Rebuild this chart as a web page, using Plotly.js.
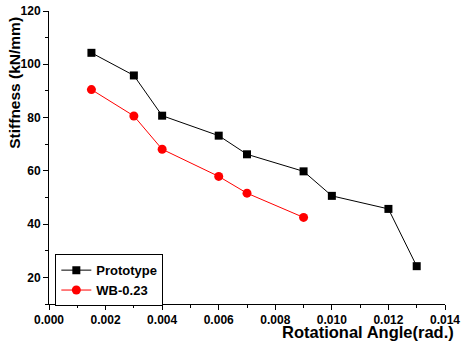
<!DOCTYPE html>
<html><head><meta charset="utf-8">
<script src="https://cdn.plot.ly/plotly-3.0.1.min.js"></script>
<style>html,body{margin:0;padding:0;background:#fff}#chart{width:461px;height:343px}</style>
</head><body><div id="chart"></div>
<script>
const protoX = [0.0015, 0.003, 0.004, 0.006, 0.007, 0.009, 0.010, 0.012, 0.013];
const protoY = [104.3, 95.8, 80.7, 73.2, 66.2, 59.8, 50.6, 45.7, 24.2];
const wbX = [0.0015, 0.003, 0.004, 0.006, 0.007, 0.009];
const wbY = [90.5, 80.6, 68.1, 57.9, 51.6, 42.5];
const seriesNames = ['Prototype', 'WB-0.23'];
const xTitle = 'Rotational Angle(rad.)';
const yTitle = 'Stiffness (kN/mm)';

const F = 'Liberation Sans, Arial, sans-serif';
const traces = [
  {x: protoX, y: protoY, name: seriesNames[0], mode: 'lines+markers',
   line: {color: '#000', width: 1}, marker: {symbol: 'square', size: 8, color: '#000'}},
  {x: wbX, y: wbY, name: seriesNames[1], mode: 'lines+markers',
   line: {color: '#ff0000', width: 1}, marker: {symbol: 'circle', size: 9, color: '#ff0000'}}
];
const layout = {
  width: 461, height: 343,
  margin: {l: 49, r: 16, t: 11, b: 39},
  paper_bgcolor: '#fff', plot_bgcolor: '#fff',
  font: {family: F, color: '#000', size: 12, weight: 'bold'},
  showlegend: true,
  legend: {x: 0.016, y: 0.17, xanchor: 'left', yanchor: 'top', bordercolor: '#000', borderwidth: 1,
    bgcolor: '#fff', font: {family: F, size: 13, weight: 'bold'}, tracegroupgap: 0},
  xaxis: {range: [0, 0.014], dtick: 0.002, tick0: 0, tickformat: '.3f', showgrid: false, zeroline: false,
    showline: true, linecolor: '#000', linewidth: 1, ticks: 'outside', ticklen: 5, tickcolor: '#000',
    tickfont: {family: F, size: 12, weight: 'bold'},
    minor: {dtick: 0.001, ticklen: 3, tickcolor: '#000', ticks: 'outside', showgrid: false}},
  yaxis: {range: [10, 120], dtick: 20, tick0: 0, showgrid: false, zeroline: false,
    showline: true, linecolor: '#000', linewidth: 1, ticks: 'outside', ticklen: 5, tickcolor: '#000',
    tickfont: {family: F, size: 12, weight: 'bold'},
    minor: {dtick: 10, ticklen: 3, tickcolor: '#000', ticks: 'outside', showgrid: false}},
  annotations: [
    {text: xTitle, xref: 'paper', yref: 'paper', x: 1.028, y: -0.097, xanchor: 'right', yanchor: 'middle',
     showarrow: false, font: {family: F, size: 16.5, weight: 'bold'}},
    {text: yTitle, xref: 'paper', yref: 'paper', x: -0.086, y: 0.755, xanchor: 'center', yanchor: 'middle',
     textangle: -90, showarrow: false, font: {family: F, size: 15.5, weight: 'bold'}}
  ]
};
Plotly.newPlot('chart', traces, layout, {displayModeBar: false, staticPlot: true});
</script></body></html>
